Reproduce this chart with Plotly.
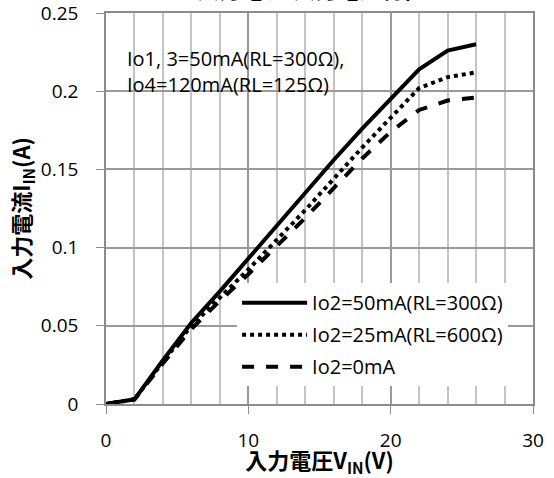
import plotly.graph_objects as go

vin = [0, 2, 4, 6, 8, 10, 12, 14, 16, 18, 20, 22, 24, 26]
iin_50mA = [0, 0.003, 0.028, 0.052, 0.072, 0.093, 0.114, 0.135, 0.156, 0.176, 0.195, 0.214, 0.226, 0.230]
iin_25mA = [0, 0.003, 0.027, 0.050, 0.068, 0.086, 0.105, 0.124, 0.144, 0.164, 0.183, 0.202, 0.209, 0.212]
iin_0mA = [0, 0.003, 0.026, 0.048, 0.066, 0.083, 0.101, 0.119, 0.138, 0.157, 0.174, 0.188, 0.194, 0.196]
names = ["Io2=50mA(RL=300Ω)", "Io2=25mA(RL=600Ω)", "Io2=0mA"]
dashes = ["solid", "dot", "dash"]

FONT = "Open Sans, Noto Sans CJK JP, sans-serif"
CJK = "Noto Sans CJK JP, sans-serif"

fig = go.Figure()
for i, (y, n, d) in enumerate(zip([iin_50mA, iin_25mA, iin_0mA], names, dashes)):
    fig.add_trace(go.Scatter(x=vin, y=y, mode="lines", name=n, legendgroup=f"g{i}",
                             line=dict(color="black", width=4, dash=d)))

fig.update_layout(
    width=554, height=478,
    margin=dict(l=106, r=21, t=13, b=74, autoexpand=False),
    paper_bgcolor="white", plot_bgcolor="white",
    font=dict(family=FONT, size=19, color="black"),
    showlegend=True,
    legend=dict(x=0.307, y=0.309, xanchor="left", yanchor="top",
                bgcolor="white", borderwidth=0, itemwidth=65,
                font=dict(family=FONT, size=20), tracegroupgap=3),
)
fig.update_xaxes(range=[0, 30], dtick=10, tick0=0,
                 showgrid=True, gridcolor="#9a9a9a", gridwidth=1.5,
                 minor=dict(dtick=2, showgrid=True, gridcolor="#c4c4c4", gridwidth=1.5),
                 showline=True, mirror=True, linecolor="#8c8c8c", linewidth=1.5,
                 ticks="outside", ticklen=8, tickcolor="#8c8c8c",
                 zeroline=False, ticklabelstandoff=10, ticklabeloverflow="allow",
                 tickfont=dict(family=FONT, size=19),
                 title=dict(text="<b>入力電圧V<sub>IN</sub>(V)</b>",
                            font=dict(family=CJK, size=22), standoff=15))
fig.update_yaxes(range=[0, 0.25], dtick=0.05, tick0=0,
                 showgrid=True, gridcolor="#9a9a9a", gridwidth=1.5,
                 showline=True, mirror=True, linecolor="#8c8c8c", linewidth=1.5,
                 ticks="outside", ticklen=8, tickcolor="#8c8c8c",
                 zeroline=False, ticklabelstandoff=14, ticklabeloverflow="allow",
                 tickfont=dict(family=FONT, size=19),
                 title=dict(text="<b>入力電流I<sub>IN</sub>(A)</b>",
                            font=dict(family=CJK, size=22), standoff=4))

# white box behind the note
fig.add_shape(type="rect", xref="paper", yref="paper",
              x0=0.005, x1=0.625, y0=0.76, y1=0.951,
              fillcolor="white", line=dict(width=0), layer="between")
fig.add_annotation(xref="paper", yref="paper", x=0.0445, y=0.923,
                   xanchor="left", yanchor="top", align="left", showarrow=False,
                   text="Io1, 3=50mA(RL=300Ω),<br>Io4=120mA(RL=125Ω)",
                   font=dict(family=FONT, size=20))
# chart title (cut off at top edge)
fig.add_annotation(xref="paper", yref="paper", x=0.48, y=1.0, yshift=7,
                   xanchor="center", yanchor="bottom", showarrow=False,
                   text="<b>入力電流-入力電圧特性</b>",
                   font=dict(family=CJK, size=22))

fig.write_html("out.html", config={"displayModeBar": False},
               post_script="document.body.style.margin='0';")
